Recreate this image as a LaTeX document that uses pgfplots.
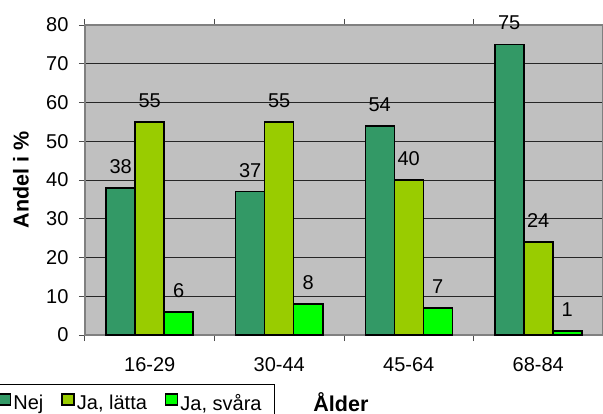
\documentclass[border=0pt]{standalone}
\usepackage{fontspec}
\setmainfont{Liberation Sans}
\usepackage{pgfplots}
\pgfplotsset{compat=1.18}
\definecolor{nej}{HTML}{339966}
\definecolor{latta}{HTML}{99CC00}
\definecolor{svara}{HTML}{00FF00}
\definecolor{plotbg}{HTML}{C0C0C0}
\definecolor{frame}{HTML}{808080}
\newcommand{\fsz}{\fontsize{20bp}{24bp}\selectfont}
\newcommand{\fsb}{\fontsize{21.5bp}{25bp}\selectfont\bfseries}
\begin{document}
\begin{tikzpicture}[font=\fsz]
\begin{axis}[
  at={(0,0)}, anchor=south west,
  scale only axis, width=518bp, height=310bp,
  xmin=-0.5, xmax=3.5, ymin=0, ymax=80,
  clip=false,
  ybar=0pt, bar width=29bp,
  axis background/.style={fill=plotbg},
  axis line style={frame, line width=1.5bp},
  xtick={0,1,2,3}, xticklabels={16-29,30-44,45-64,68-84},
  minor xtick={-0.5,0.5,1.5,2.5,3.5},
  major x tick style={draw=none},
  ytick={0,10,...,80},
  ymajorgrids, grid style={black!85, line width=0.75bp},
  tick align=outside, major tick length=6bp, minor tick length=6bp,
  tick style={black!70, line width=1bp},
  /pgf/number format/assume math mode=true,
  tick label style={font=\fsz, black},
  xticklabel style={anchor=base, yshift=-30bp},
  yticklabel style={anchor=east, xshift=-7bp},
  ylabel={Andel i \%},
  ylabel style={at={(axis description cs:-0.1236,0.5)}, anchor=center, rotate=0, font=\fsb},
  xlabel={Ålder},
  xlabel style={at={(axis description cs:0.494,-0.2452)}, anchor=base, font=\fsb},
  nodes near coords,
  every node near coord/.append style={anchor=base, yshift=14.5bp, font=\fsz, black},
  legend columns=3,
  legend style={at={(axis description cs:0,0)}, anchor=north east, xshift=190bp, yshift=-49bp,
    draw=black, line width=0.75bp, fill=white, font=\fsz, inner xsep=11bp, inner ysep=8bp,
    nodes={inner xsep=2bp, inner ysep=2bp},
    /tikz/every even column/.append style={column sep=16bp}},
  legend image code/.code={\draw[#1, draw=black, line width=1.5bp] (0bp,-2bp) rectangle (12bp,9bp);},
]
\addplot[fill=nej, draw=black, line width=1.5bp] coordinates {(0,38) (1,37) (2,54) (3,75)};
\addplot[fill=latta, draw=black, line width=1.5bp] coordinates {(0,55) (1,55) (2,40) (3,24)};
\addplot[fill=svara, draw=black, line width=1.5bp] coordinates {(0,6) (1,8) (2,7) (3,1)};
\legend{Nej, {Ja, lätta}, {Ja, svåra}}
\end{axis}
\pgfresetboundingbox
\path[use as bounding box] (-85bp,-79bp) rectangle (518bp,335bp);
\end{tikzpicture}
\end{document}
